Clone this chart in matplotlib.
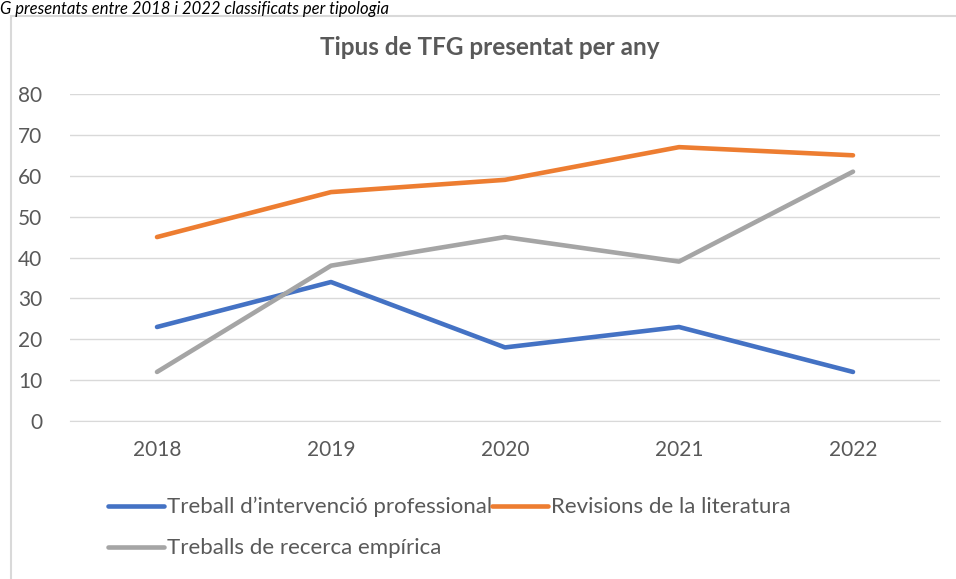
import matplotlib.pyplot as plt
from matplotlib.patches import Rectangle

plt.rcParams['font.family'] = ['Lato', 'DejaVu Sans']

years = ["2018", "2019", "2020", "2021", "2022"]
intervencio = [23, 34, 18, 23, 12]
revisions = [45, 56, 59, 67, 65]
recerca = [12, 38, 45, 39, 61]

fig = plt.figure(figsize=(9.56, 5.79), dpi=100)

# caption of the document above the chart
fig.text(0.0, 1 - 1 / 579, "G presentats entre 2018 i 2022 classificats per tipologia",
         fontsize=12, style="italic", color="black", va="top", ha="left")

# chart frame
frame = Rectangle((11 / 956, -0.1), 1.0, 1 - 16 / 579 + 0.1, transform=fig.transFigure,
                  fill=False, edgecolor="#d9d9d9", linewidth=1.5)
fig.patches.append(frame)

ax = fig.add_axes([70 / 956, 1 - 421 / 579, 870 / 956, 327 / 579])
x = range(len(years))
l1, = ax.plot(x, intervencio, color="#4472c4", linewidth=3.3, solid_capstyle="round",
              label="Treball d\u2019intervenció professional")
l2, = ax.plot(x, revisions, color="#ed7d31", linewidth=3.3, solid_capstyle="round",
              label="Revisions de la literatura")
l3, = ax.plot(x, recerca, color="#a5a5a5", linewidth=3.3, solid_capstyle="round",
              label="Treballs de recerca empírica")

ax.set_xlim(-0.5, len(years) - 0.5)
ax.set_ylim(0, 80)
ax.set_yticks(range(0, 81, 10))
ax.set_xticks(list(x))
ax.set_xticklabels(years)
ax.grid(axis="y", color="#d9d9d9", linewidth=1)
ax.set_axisbelow(True)
for s in ["top", "right", "left"]:
    ax.spines[s].set_visible(False)
ax.spines["bottom"].set_color("#d9d9d9")
ax.tick_params(length=0, labelsize=15, labelcolor="#595959")
ax.tick_params(axis="y", pad=20)
ax.tick_params(axis="x", pad=14)

ax.set_title("Tipus de TFG presentat per any", fontsize=17.5, fontweight="bold",
             color="#595959", pad=28, x=(490 - 70) / 870)

fig.legend([l1, l3, l2], [l1.get_label(), l3.get_label(), l2.get_label()],
           ncol=2, loc="upper left", bbox_to_anchor=(108 / 956, 1 - 497 / 579),
           frameon=False, fontsize=16, labelcolor="#595959", handlelength=2.5,
           handletextpad=0.15, columnspacing=0.0, labelspacing=0.95,
           borderpad=0, borderaxespad=0)

fig.savefig("out.png", dpi=100)
